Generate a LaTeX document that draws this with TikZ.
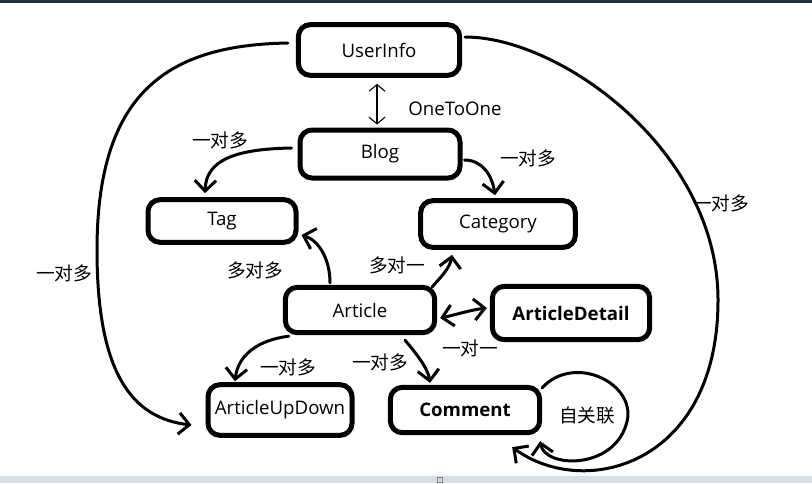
\documentclass[tikz,border=0pt]{standalone}
\usepackage{fontspec}
\setmainfont{Open Sans}
\newfontfamily\cjk{Noto Sans CJK SC}
\usetikzlibrary{arrows.meta,calc}
\definecolor{titlebar}{HTML}{1F3044}
\definecolor{statusbar}{HTML}{D6DEE8}

\begin{document}
\begin{tikzpicture}[
  x=0.75pt, y=-0.75pt,
  every node/.style={rectangle, align=center},
  box/.style={draw, line width=3.75pt, rounded corners=9pt, inner sep=1pt,
    font=\fontsize{14}{17}\selectfont},
  boldbox/.style={box, font=\fontsize{14}{17}\selectfont\bfseries},
  rel/.style={inner sep=0pt, font=\cjk\fontsize{14}{16}\selectfont},
  lbl/.style={inner sep=0pt, font=\fontsize{14}{17}\selectfont},
  arrow/.style={-{Straight Barb[length=8pt,width=16pt]}, line width=2.25pt, line cap=round, line join=round},
  dblarrow/.style={{Straight Barb[length=8pt,width=16pt]}-{Straight Barb[length=8pt,width=16pt]}, line width=2.25pt, line cap=round},
  thinarrow/.style={{Straight Barb[length=5pt,width=12pt]}-{Straight Barb[length=5pt,width=12pt]}, line width=0.8pt}
]
\useasboundingbox (0,0) rectangle (812,483);

%% window bars
\fill[titlebar] (0,0) rectangle (812,3);
\fill[statusbar] (0,476) rectangle (812,483);
\draw[gray, line width=0.6pt] (437,477) rectangle (442,482);

%% Row 0: UserInfo
\node[box, minimum width=121pt, minimum height=38pt] (user) at (379,50) {UserInfo};

%% Row 1: Blog
\node[box, minimum width=120pt, minimum height=36pt] (blog) at (380,154) {Blog};

%% Row 2: Tag + Category
\node[box, minimum width=111pt, minimum height=32pt] (tag) at (222,221) {Tag};
\node[box, minimum width=116pt, minimum height=35pt] (cat) at (498,224) {Category};

%% Row 3: Article + ArticleDetail
\node[box, minimum width=112pt, minimum height=34pt] (article) at (360,310) {Article};
\node[boldbox, minimum width=118pt, minimum height=40pt] (detail) at (571,313) {ArticleDetail};

%% Row 4: ArticleUpDown + Comment
\node[box, minimum width=108pt, minimum height=38pt] (updown) at (280,410) {ArticleUpDown};
\node[boldbox, minimum width=112pt, minimum height=34pt] (comment) at (465,410) {Comment};

%% UserInfo <-> Blog
\draw[thinarrow] ($(user.south)+(-2,6)$) -- ($(blog.north)+(-3,-3)$);
\node[lbl] (onetoone) at (455,109) {OneToOne};

%% Blog -> Tag, Blog -> Category
\draw[arrow] ($(blog.west)+(-6,-6)$) .. controls (235,149) and (206,160) .. ($(tag.north)+(-17,-4)$);
\node[rel] (blogtag) at (220,140) {一对多};
\draw[arrow] ($(blog.east)+(2,6)$) .. controls (482,160) and (492,175) .. ($(cat.north)+(-3,-3)$);
\node[rel] (blogcat) at (528,158) {一对多};

%% Article -> Tag, Article -> Category
\draw[arrow] ($(article.north)+(-30,-2)$) .. controls (330,258) and (318,240) .. ($(tag.east)+(3,14)$);
\node[rel] (arttag) at (255,270) {多对多};
\draw[arrow] ($(article.north east)+(-5,2)$) .. controls (440,278) and (450,268) .. ($(cat.south)+(-46,5)$);
\node[rel] (artcat) at (397,265) {多对一};

%% Article <-> ArticleDetail
\draw[dblarrow] ($(article.east)+(3,8)$) .. controls (455,315) and (470,310) .. ($(detail.west)+(-3,-5)$);
\node[rel] (artdetail) at (470,348) {一对一};

%% Article -> ArticleUpDown, Article -> Comment
\draw[arrow] ($(article.south west)+(6,1)$) .. controls (258,340) and (238,355) .. ($(updown.north)+(-45,-1)$);
\node[rel] (artupdown) at (288,367) {一对多};
\draw[arrow] ($(article.south)+(45,5)$) .. controls (415,352) and (428,368) .. ($(comment.north)+(-35,-2)$);
\node[rel] (artcomment) at (380,362) {一对多};

%% UserInfo -> ArticleUpDown (left)
\coordinate (lbend) at (97,250);
\draw[arrow] ($(user.west)+(-8,-7)$) .. controls (170,45) and (97,90) .. (lbend)
  .. controls (97,370) and (130,418) .. ($(updown.west)+(-14,15)$);
\node[rel] (userupdown) at (64,273) {一对多};

%% UserInfo -> Comment (right)
\coordinate (rbend) at (718,300);
\draw[arrow] ($(user.east)+(3,-13)$) .. controls (560,37) and (718,150) .. (rbend)
  .. controls (718,465) and (585,500) .. ($(comment.south east)+(-30,12)$);
\node[rel] (usercomment) at (721,203) {一对多};

%% Comment self relation
\coordinate (loop) at (626,425);
\draw[arrow] ($(comment.north east)+(0,3)$) .. controls (575,352) and (640,385) .. (loop)
  .. controls (612,470) and (545,468) .. ($(comment.south east)+(-2,6)$);
\node[rel] (self) at (587,415) {自关联};

\end{tikzpicture}
\end{document}
